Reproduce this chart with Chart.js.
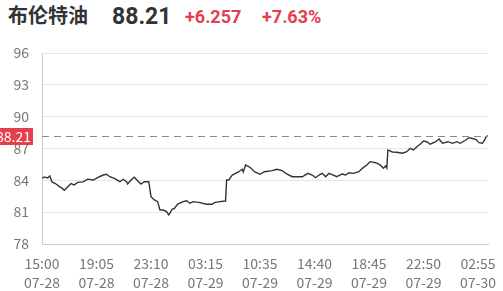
<!DOCTYPE html>
<html>
<head>
<meta charset="utf-8">
<script src="https://cdn.jsdelivr.net/npm/chart.js@4/dist/chart.umd.min.js"></script>
<style>
  body { margin: 0; background: #fff; }
  #wrap { position: relative; width: 503px; height: 291px; }
  #title span { position: absolute; line-height: 1; white-space: nowrap; font-weight: bold; }
  .up { color: #e2404e; font-family: Roboto, sans-serif; font-size: 18px; top: 8px; }
</style>
</head>
<body>
<div id="wrap">
  <div id="title">
    <span style="left:8px;top:5px;font-size:20px;color:#333;font-family:'Noto Sans CJK SC',sans-serif;">布伦特油</span>
    <span style="left:112px;top:5px;font-size:23px;color:#333;font-family:Roboto,sans-serif;" id="last"></span>
    <span class="up" style="left:185px;" id="chg"></span>
    <span class="up" style="left:262px;" id="pct"></span>
  </div>
  <canvas id="chart" width="503" height="291" style="position:absolute;left:0;top:0;"></canvas>
</div>
<script>
// 5-minute slot index (trading time) of each reading
const slots = [0, 2, 5, 7, 9, 12, 16, 18, 20, 23, 26, 29, 32, 37, 41, 46, 50, 55, 58, 61,
  65, 70, 73, 76, 77, 80, 83, 86, 89, 92, 96, 98, 101, 104, 106, 109, 112, 114, 117, 119,
  122, 127, 130, 133, 136, 142, 148, 153, 155, 160, 165, 166, 168, 171, 174, 177, 180, 181, 183, 187,
  191, 196, 200, 207, 211, 216, 220, 225, 229, 234, 239, 243, 246, 249, 252, 255, 258, 262, 265, 270,
  273, 276, 280, 285, 288, 292, 295, 300, 304, 307, 309, 310, 311, 315, 319, 324, 328, 331, 334, 337,
  340, 343, 346, 349, 354, 357, 360, 365, 369, 373, 376, 381, 384, 387, 390, 393, 396, 398, 399, 401];

const prices = [84.17, 84.32, 84.22, 84.41, 83.85, 83.70, 83.38, 83.26, 83.07, 83.38, 83.70, 83.56, 83.81, 83.85, 84.11, 84.03, 84.25, 84.50, 84.57, 84.34,
  84.19, 83.87, 84.10, 83.87, 83.65, 84.03, 84.29, 83.97, 83.65, 83.87, 83.87, 82.46, 82.15, 81.99, 81.20, 81.20, 81.05, 80.73, 81.27, 81.36,
  81.77, 81.99, 82.08, 81.84, 81.99, 81.90, 81.75, 81.75, 81.90, 81.99, 82.05, 84.03, 84.03, 84.50, 84.66, 84.81, 85.04, 84.79, 85.45, 85.23,
  84.81, 84.57, 84.81, 84.91, 85.04, 84.91, 84.60, 84.34, 84.34, 84.34, 84.66, 84.50, 84.25, 84.50, 84.66, 84.34, 84.66, 84.50, 84.34, 84.60,
  84.50, 84.72, 84.66, 84.81, 85.13, 85.45, 85.76, 85.66, 85.45, 85.13, 85.35, 85.16, 86.86, 86.67, 86.64, 86.55, 86.70, 87.02, 86.86, 87.17,
  87.40, 87.71, 87.64, 87.40, 87.64, 87.90, 87.49, 87.64, 87.49, 87.64, 87.49, 87.80, 88.02, 87.94, 87.87, 87.55, 87.49, 87.80, 88.06, 88.21];

const tickSlots = [0, 49, 98, 147, 196, 245, 294, 343, 392];
const tickTimes = ["15:00", "19:05", "23:10", "03:15", "10:35", "14:40", "18:45", "22:50", "02:55"];
const tickDates = ["07-28", "07-28", "07-28", "07-29", "07-29", "07-29", "07-29", "07-29", "07-30"];
const yTicks = [78, 81, 84, 87, 90, 93, 96];

const lastPrice = 88.21;
const change = "+6.257";
const changePct = "+7.63%";

document.getElementById("last").textContent = lastPrice.toFixed(2);
document.getElementById("chg").textContent = change;
document.getElementById("pct").textContent = changePct;

// dashed line + red tag for the last price
const lastLine = {
  id: "lastLine",
  afterDraw(c) {
    const ctx = c.ctx, y = Math.round(c.scales.y.getPixelForValue(lastPrice)), a = c.chartArea;
    ctx.save();
    ctx.strokeStyle = "#888";
    ctx.lineWidth = 1;
    ctx.setLineDash([7, 5]);
    ctx.beginPath();
    ctx.moveTo(a.left, y + 0.5);
    ctx.lineTo(a.right, y + 0.5);
    ctx.stroke();
    ctx.setLineDash([]);
    ctx.fillStyle = "#e2404e";
    ctx.fillRect(0, y - 8, 33, 17);
    ctx.fillStyle = "#fff";
    ctx.font = "14px 'Noto Sans CJK SC', sans-serif";
    ctx.textAlign = "right";
    ctx.textBaseline = "middle";
    ctx.fillText(lastPrice.toFixed(2), 31, y + 1);
    ctx.restore();
  }
};

new Chart(document.getElementById("chart"), {
  type: "line",
  data: {
    datasets: [{
      data: slots.map((s, i) => ({ x: s, y: prices[i] })),
      borderColor: "#333",
      borderWidth: 1.4,
      pointRadius: 0,
      tension: 0
    }]
  },
  options: {
    responsive: false,
    animation: false,
    layout: { padding: { top: 53, right: 15, left: 0, bottom: 0 } },
    plugins: { legend: { display: false }, tooltip: { enabled: false } },
    scales: {
      x: {
        type: "linear",
        min: 0,
        max: 401,
        grid: { display: false },
        border: { color: "#ccc" },
        afterBuildTicks: s => { s.ticks = tickSlots.map(v => ({ value: v })); },
        afterFit: s => { s.height = 47; },
        ticks: {
          autoSkip: false,
          maxRotation: 0,
          padding: 3,
          color: "#777",
          font: { family: "'Noto Sans CJK SC', sans-serif", size: 14, lineHeight: 1.3 },
          callback: v => {
            const i = tickSlots.indexOf(v);
            return i < 0 ? "" : [tickTimes[i], tickDates[i]];
          }
        }
      },
      y: {
        min: 78,
        max: 96,
        afterBuildTicks: s => { s.ticks = yTicks.map(v => ({ value: v })); },
        afterFit: s => { s.width = 42; },
        grid: { color: "#e6e6e6", drawTicks: false },
        border: { color: "#ccc" },
        ticks: {
          padding: 13,
          color: "#777",
          font: { family: "'Noto Sans CJK SC', sans-serif", size: 14 }
        }
      }
    }
  },
  plugins: [lastLine]
});
</script>
</body>
</html>
